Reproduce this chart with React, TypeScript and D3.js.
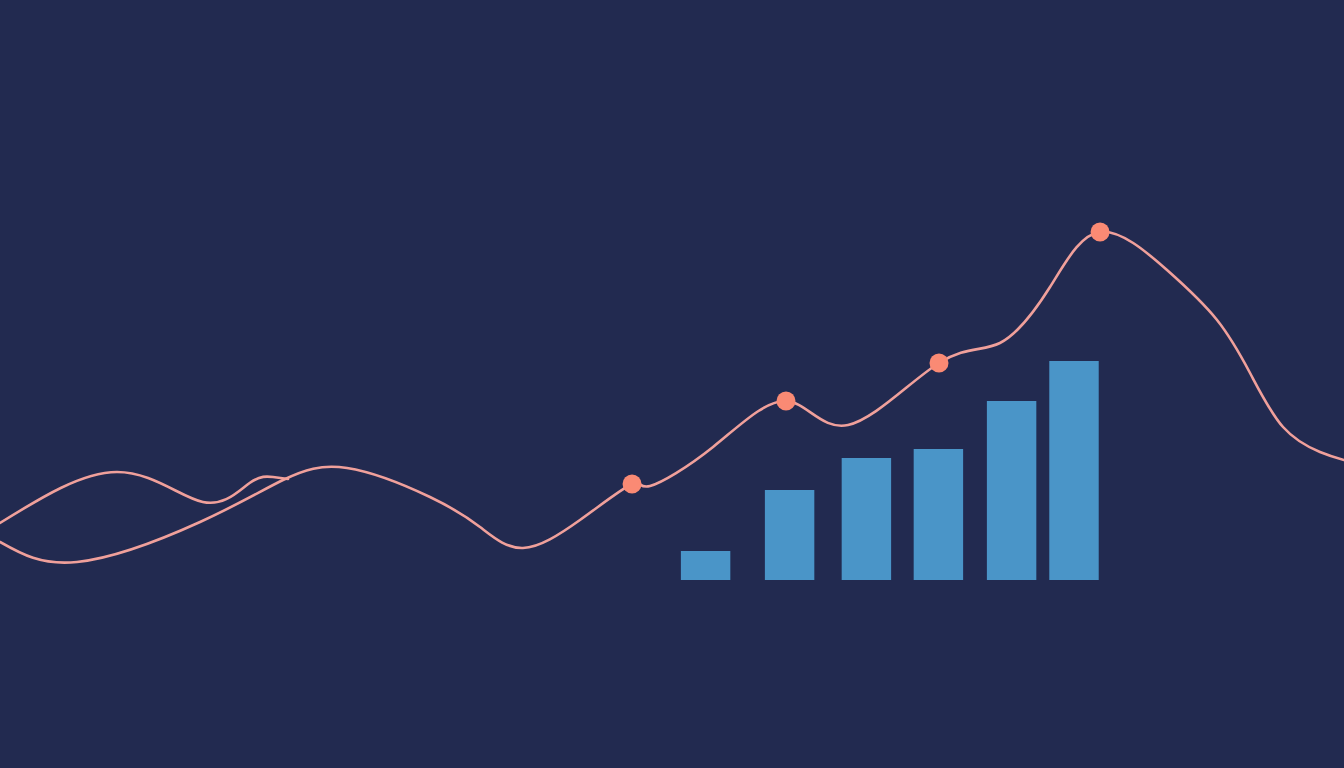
import React from "react";
import * as d3 from "d3";

const W = 1344;
const H = 768;

// bar series (x position in time units, value)
const barX = [58.8, 65.8, 72.2, 78.2, 84.3, 89.5];
const barValues = [7.25, 22.5, 30.5, 32.75, 44.75, 54.75];

// main trend line
const trendX = [0, 6.42, 16.67, 23.58, 28.92, 35.83, 40, 43.58, 48.33, 52.67, 54.17, 59.42, 65.5, 70.67, 78.25, 83.33, 87.5, 91.67, 97.25, 101.42, 104.17, 106.92, 110, 112];
const trendY = [9.5, 4.5, 14.5, 25, 28, 20.75, 13.25, 8, 15, 24, 23.5, 33.25, 44.75, 38.75, 54.25, 59.25, 73.25, 87, 77.5, 65, 51.75, 38.25, 32, 30];

// secondary short line
const shortX = [0, 9.75, 16.9, 20.8, 22.75, 24];
const shortY = [14.25, 27, 19.5, 24.25, 25.75, 25.25];

// highlighted points on trend line
const markerX = [52.67, 65.5, 78.25, 91.67];
const markerY = [24, 44.75, 54.25, 87];

export default function App() {
  const x = d3.scaleLinear().domain([0, 112]).range([0, W]);
  const y = d3.scaleLinear().domain([0, 100]).range([580, 180]);
  const barW = x(4.12) - x(0);

  const line = d3
    .line<[number, number]>()
    .x((d) => x(d[0]))
    .y((d) => y(d[1]))
    .curve(d3.curveNatural);

  const trend = trendX.map((v, i) => [v, trendY[i]] as [number, number]);
  const short = shortX.map((v, i) => [v, shortY[i]] as [number, number]);

  return (
    <div style={{ position: "fixed", left: 0, top: 0, width: W, height: H }}>
      <svg width={W} height={H} style={{ display: "block" }}>
        <rect x={0} y={0} width={W} height={H} fill="#222a50" />
        {barValues.map((v, i) => (
          <rect
            key={i}
            x={x(barX[i]) - barW / 2}
            y={y(v)}
            width={barW}
            height={y(0) - y(v)}
            fill="#4a95c8"
          />
        ))}
        <path d={line(short) || ""} fill="none" stroke="#f0a09b" strokeWidth={2.6} strokeLinecap="round" />
        <path d={line(trend) || ""} fill="none" stroke="#f0a09b" strokeWidth={2.6} strokeLinecap="round" />
        {markerX.map((v, i) => (
          <circle key={i} cx={x(v)} cy={y(markerY[i])} r={9.5} fill="#fa8a74" />
        ))}
      </svg>
    </div>
  );
}
